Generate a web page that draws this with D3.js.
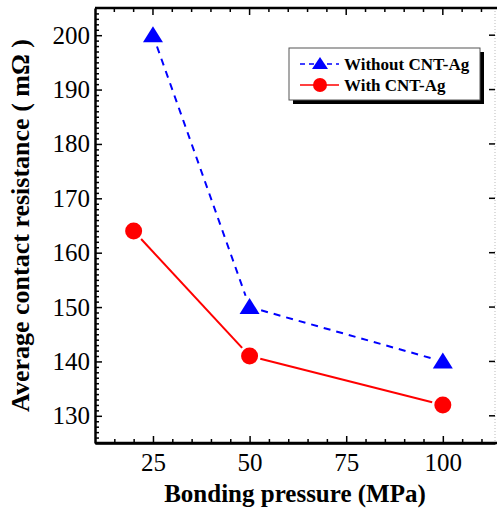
<!DOCTYPE html>
<html>
<head>
<meta charset="utf-8">
<script src="https://cdn.jsdelivr.net/npm/d3@7"></script>
<style>
  body { margin: 0; background: #fff; }
  text { font-family: "Liberation Serif", "Times New Roman", serif; }
</style>
</head>
<body>
<svg></svg>
<script>
const width = 497;
const height = 511;

// data
const pressureWithout = [25, 50, 100];
const resistanceWithout = [200, 150, 140];
const pressureWith = [20, 50, 100];
const resistanceWith = [164, 141, 132];
const xTicks = [25, 50, 75, 100];
const yTicks = [130, 140, 150, 160, 170, 180, 190, 200];
const legendLabels = ["Without CNT-Ag", "With CNT-Ag"];

const plotLeft = 95, plotRight = 495, plotTop = 8, plotBottom = 443;

const xScale = d3.scaleLinear().domain([10, 113.5]).range([plotLeft, plotRight]);
const yScale = d3.scaleLinear().domain([125, 205]).range([plotBottom, plotTop]);

const xMinor = d3.range(15, 114, 5).filter(v => !xTicks.includes(v));
const yMinor = d3.range(126, 205, 1).filter(v => !yTicks.includes(v));

const svg = d3.select("svg")
  .attr("width", width)
  .attr("height", height);

// right frame (light dotted) with inward major ticks
svg.append("line")
  .attr("x1", plotRight).attr("x2", plotRight)
  .attr("y1", plotTop).attr("y2", plotBottom)
  .attr("stroke", "#bbb")
  .attr("stroke-dasharray", "1,2");
svg.append("g")
  .selectAll("line")
  .data(yTicks)
  .enter()
  .append("line")
    .attr("x1", plotRight - 6).attr("x2", plotRight)
    .attr("y1", d => yScale(d)).attr("y2", d => yScale(d))
    .attr("stroke", "#000")
    .attr("stroke-width", 1.5);

// top frame
const topAxis = svg.append("g").attr("transform", `translate(0, ${plotTop})`);
topAxis.append("line")
  .attr("x1", plotLeft).attr("x2", width)
  .attr("stroke", "#000").attr("stroke-width", 2.5);
topAxis.selectAll(".maj")
  .data(xTicks).enter().append("line")
    .attr("x1", d => xScale(d)).attr("x2", d => xScale(d))
    .attr("y1", 0).attr("y2", 7)
    .attr("stroke", "#000").attr("stroke-width", 1.5);
topAxis.selectAll(".min")
  .data(xMinor).enter().append("line")
    .attr("x1", d => xScale(d)).attr("x2", d => xScale(d))
    .attr("y1", 0).attr("y2", 4)
    .attr("stroke", "#000").attr("stroke-width", 1.5);

// bottom axis
const xAxis = d3.axisBottom(xScale)
  .tickValues(xTicks)
  .tickSize(-7)
  .tickSizeOuter(0)
  .tickPadding(10);
const xAxisMinor = d3.axisBottom(xScale)
  .tickValues(xMinor)
  .tickSize(-4)
  .tickSizeOuter(0)
  .tickFormat("");

svg.append("g")
  .attr("transform", `translate(0, ${plotBottom})`)
  .call(xAxis);
svg.append("g")
  .attr("transform", `translate(0, ${plotBottom})`)
  .call(xAxisMinor)
  .select(".domain").remove();
svg.append("line")
  .attr("x1", plotLeft).attr("x2", width)
  .attr("y1", plotBottom).attr("y2", plotBottom)
  .attr("stroke", "#000").attr("stroke-width", 2.5);

// left axis
const yAxis = d3.axisLeft(yScale)
  .tickValues(yTicks)
  .tickSize(-7)
  .tickSizeOuter(0)
  .tickPadding(5);
const yAxisMinor = d3.axisLeft(yScale)
  .tickValues(yMinor)
  .tickSize(-4)
  .tickSizeOuter(0)
  .tickFormat("");

svg.append("g")
  .attr("transform", `translate(${plotLeft}, 0)`)
  .call(yAxis);
svg.append("g")
  .attr("transform", `translate(${plotLeft}, 0)`)
  .call(yAxisMinor)
  .select(".domain").remove();

svg.selectAll(".domain").attr("stroke-width", 2.5);
svg.selectAll(".tick line").attr("stroke-width", 1.5);
svg.selectAll(".tick text")
  .style("font-family", "'Liberation Serif', serif")
  .style("font-size", "25px")
  .attr("fill", "#000");

// axis titles
svg.append("text")
  .attr("x", (plotLeft + plotRight) / 2)
  .attr("y", 502)
  .style("text-anchor", "middle")
  .style("font-size", "25px")
  .style("font-weight", "bold")
  .text("Bonding pressure (MPa)");

svg.append("text")
  .attr("transform", "rotate(-90)")
  .attr("x", -(plotTop + plotBottom) / 2)
  .attr("y", 29)
  .style("text-anchor", "middle")
  .style("font-size", "26px")
  .style("font-weight", "bold")
  .text("Average contact resistance ( m\u03A9 )");

// lines drawn with a gap around each marker
function segments(xs, ys, gap) {
  const segs = [];
  for (let i = 0; i < xs.length - 1; i++) {
    const x1 = xScale(xs[i]), y1 = yScale(ys[i]);
    const x2 = xScale(xs[i + 1]), y2 = yScale(ys[i + 1]);
    const len = Math.hypot(x2 - x1, y2 - y1);
    const ux = (x2 - x1) / len, uy = (y2 - y1) / len;
    segs.push([x1 + ux * gap, y1 + uy * gap, x2 - ux * gap, y2 - uy * gap]);
  }
  return segs;
}

svg.append("g")
  .selectAll("line")
  .data(segments(pressureWithout, resistanceWithout, 12))
  .enter()
  .append("line")
    .attr("x1", d => d[0]).attr("y1", d => d[1])
    .attr("x2", d => d[2]).attr("y2", d => d[3])
    .attr("stroke", "#0000ff")
    .attr("stroke-width", 2)
    .attr("stroke-dasharray", "7,6");

svg.append("g")
  .selectAll("line")
  .data(segments(pressureWith, resistanceWith, 11))
  .enter()
  .append("line")
    .attr("x1", d => d[0]).attr("y1", d => d[1])
    .attr("x2", d => d[2]).attr("y2", d => d[3])
    .attr("stroke", "#ff0000")
    .attr("stroke-width", 2);

const triangle = "M0,-9L10,7L-10,7Z";

svg.append("g")
  .selectAll("path")
  .data(pressureWithout.map((p, i) => [p, resistanceWithout[i]]))
  .enter()
  .append("path")
    .attr("d", triangle)
    .attr("transform", d => `translate(${xScale(d[0])}, ${yScale(d[1])})`)
    .attr("fill", "#0000ff");

svg.append("g")
  .selectAll("circle")
  .data(pressureWith.map((p, i) => [p, resistanceWith[i]]))
  .enter()
  .append("circle")
    .attr("cx", d => xScale(d[0]))
    .attr("cy", d => yScale(d[1]))
    .attr("r", 8.5)
    .attr("fill", "#ff0000");

// legend
const legend = svg.append("g").attr("transform", "translate(289, 48)");
legend.append("rect")
  .attr("x", 4).attr("y", 4)
  .attr("width", 191).attr("height", 52)
  .attr("fill", "#000");
legend.append("rect")
  .attr("width", 191).attr("height", 52)
  .attr("fill", "#fff")
  .attr("stroke", "#555")
  .attr("stroke-width", 1);

const rows = legend.selectAll(".row")
  .data(legendLabels)
  .enter()
  .append("g")
    .attr("transform", (d, i) => `translate(0, ${16 + i * 21})`);

rows.append("line")
  .attr("x1", 11).attr("x2", 50)
  .attr("stroke", (d, i) => i === 0 ? "#0000ff" : "#ff0000")
  .attr("stroke-width", 1.5)
  .attr("stroke-dasharray", (d, i) => i === 0 ? "5,4" : null);

rows.filter((d, i) => i === 0)
  .append("path")
    .attr("d", "M0,-7L8,5L-8,5Z")
    .attr("transform", "translate(31, 0)")
    .attr("fill", "#0000ff");

rows.filter((d, i) => i === 1)
  .append("circle")
    .attr("cx", 31)
    .attr("r", 7)
    .attr("fill", "#ff0000");

rows.append("text")
  .attr("x", 55)
  .attr("dy", "0.35em")
  .style("font-size", "17px")
  .style("font-weight", "bold")
  .text(d => d);
</script>
</body>
</html>
